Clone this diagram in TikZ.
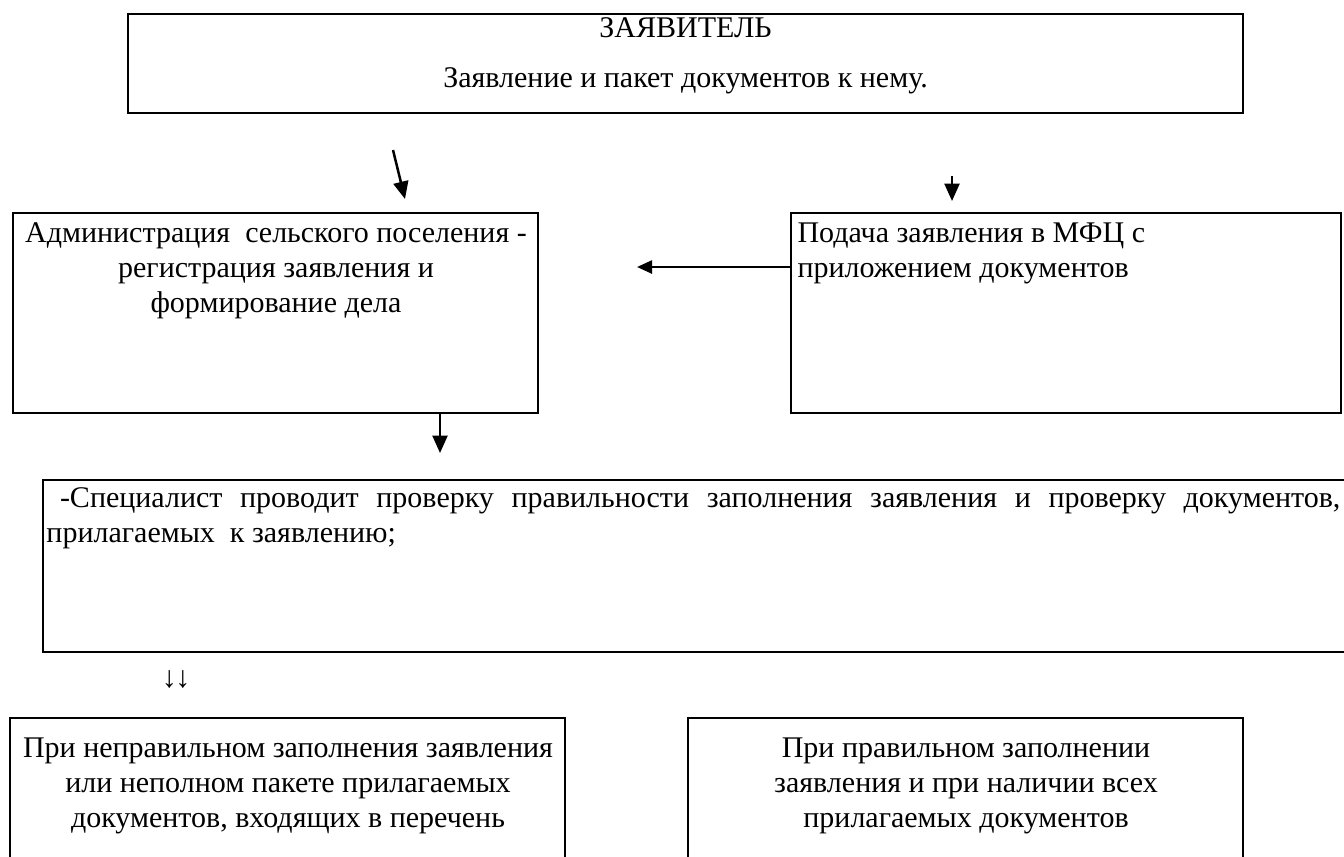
\documentclass[tikz,border=0pt]{standalone}
\usepackage{fontspec}
\setmainfont{Liberation Serif}
\usetikzlibrary{arrows.meta,fit}
\begin{document}
\begin{tikzpicture}[x=0.4pt,y=-0.4pt,
  box/.style={draw,line width=1pt,inner sep=0pt},
  txt/.style={inner sep=0pt,font=\fontsize{12}{14}\selectfont},
  arr/.style={line width=1pt,-{Triangle[length=7pt,width=6pt]}},
  arrs/.style={line width=1pt,-{Triangle[length=6pt,width=5.2pt]}}]
\clip (0,0) rectangle (1344,856);
\fill[white] (0,0) rectangle (1344,856);
% boxes
\node[box,fit={(128,14)(1243,113)}] (top) {};
\node[box,fit={(13,213)(538,413)}] (adm) {};
\node[box,fit={(791,213)(1341,413)}] (mfc) {};
\node[box,fit={(43,480)(1370,652)}] (spec) {};
\node[box,fit={(10,718)(565,890)}] (bad) {};
\node[box,fit={(688,718)(1243,890)}] (good) {};
% texts
\node[txt,anchor=base] (t1) at (685.5,37) {ЗАЯВИТЕЛЬ};
\node[txt,anchor=base] (t2) at (685.5,87) {Заявление и пакет документов к нему.};
\node[txt,anchor=north,align=center] (tadm) at (276,222) {Администрация\ \ сельского поселения -\\регистрация заявления и\\формирование дела};
\node[txt,anchor=north west,align=left] (tmfc) at (797,222) {Подача заявления в МФЦ с\\приложением документов};
\node[txt,anchor=north west,text width=517.6pt,align=justify] (tspec) at (46,487)
  {\hspace*{0.45em}-Специалист проводит проверку правильности заполнения заявления и проверку документов,\linebreak прилагаемых\ \ к заявлению;};
\node[txt,anchor=base] (dd) at (176,687) {↓\kern-0.05em↓};
\node[txt,anchor=north,align=center] (tbad) at (288,737) {При неправильном заполнения заявления\\или неполном пакете прилагаемых\\документов, входящих в перечень};
\node[txt,anchor=north,align=center] (tgood) at (966,737) {При правильном заполнении\\заявления и при наличии всех\\прилагаемых документов};
% connectors
\coordinate (a1s) at (393,150);
\coordinate (a1e) at (405,199);
\coordinate (a2s) at (952,176);
\coordinate (a2e) at (952,201);
\coordinate (a3e) at (637,267);
\coordinate (a4s) at (440,413);
\coordinate (a4e) at (440,453);
\draw[arr] (a1s) -- (a1e);
\draw[arr] (a2s) -- (a2e);
\draw[arrs] (mfc.west |- a3e) -- (a3e);
\draw[arr] (a4s) -- (a4e);
\end{tikzpicture}
\end{document}
